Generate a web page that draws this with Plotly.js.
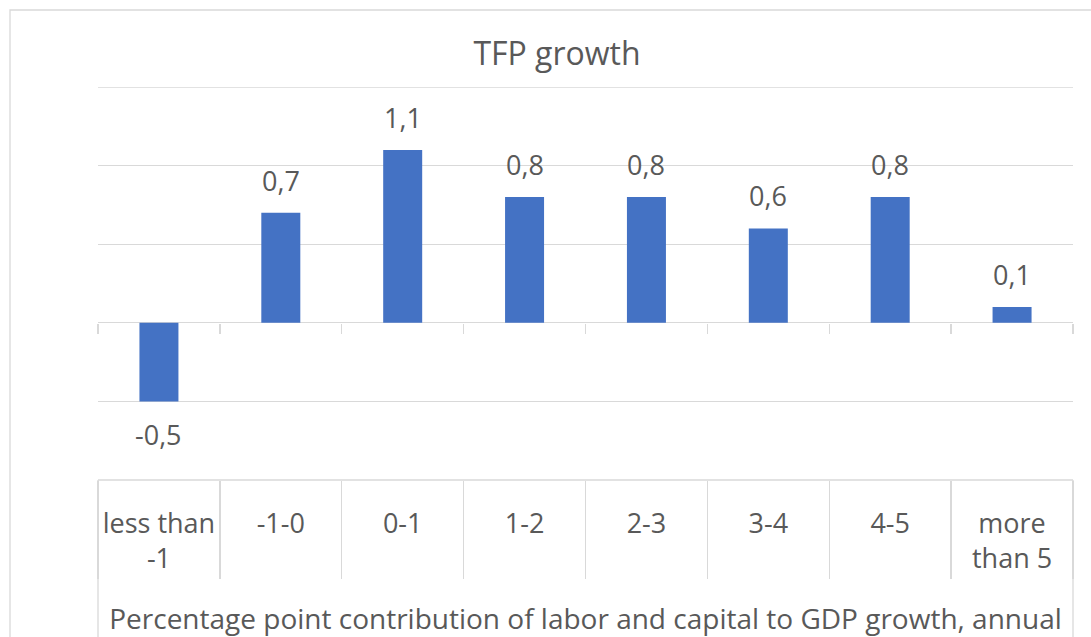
<!DOCTYPE html>
<html>
<head>
<meta charset="utf-8">
<script src="https://cdn.plot.ly/plotly-3.0.1.min.js"></script>
<style>html,body{margin:0;padding:0;background:#fff;}#chart{width:1091px;height:637px;}</style>
</head>
<body>
<div id="chart"></div>
<script>
const categories = ["less than<br>-1", "-1-0", "0-1", "1-2", "2-3", "3-4", "4-5", "more<br>than 5"];
const tfpGrowth = [-0.5, 0.7, 1.1, 0.8, 0.8, 0.6, 0.8, 0.1];
const chartTitle = "TFP growth";
const xAxisTitle = "Percentage point contribution of labor and capital to GDP growth, annual";

const grey = "#D9D9D9";
const textColor = "#595959";
const fontFam = "'Open Sans', 'Noto Sans', sans-serif";

const W = 1091, H = 637;
const M = {l: 98, r: 18, t: 87, b: 157};
const plotH = H - M.t - M.b;
const plotW = W - M.l - M.r;
const yRange = [-1, 1.5];
const zeroPos = (0 - yRange[0]) / (yRange[1] - yRange[0]);
const n = categories.length;

const trace = {
  type: "bar",
  x: categories,
  y: tfpGrowth,
  width: 0.32,
  marker: {color: "#4472C4"},
  hoverinfo: "skip",
  cliponaxis: false
};

const annotations = tfpGrowth.map((v, i) => ({
  x: categories[i],
  y: v,
  xref: "x",
  yref: "y",
  text: v.toFixed(1).replace(".", ","),
  showarrow: false,
  yanchor: v >= 0 ? "bottom" : "top",
  yshift: v >= 0 ? 12 : -13,
  font: {family: fontFam, size: 27, color: textColor}
}));

const shapes = [
  // outer chart frame
  {type: "rect", xref: "paper", yref: "paper",
   x0: (10 - M.l) / plotW, x1: (W + 20 - M.l) / plotW,
   y0: -(M.b + 20) / plotH, y1: (H - M.b - 10) / plotH,
   line: {color: grey, width: 1.3}, fillcolor: "rgba(0,0,0,0)", layer: "below"},
  // top gridline (upper edge of the value range)
  {type: "line", xref: "paper", yref: "y", x0: 0, x1: 1, y0: yRange[1], y1: yRange[1],
   line: {color: grey, width: 1.3}, layer: "below"},
  // category table outer verticals
  {type: "line", xref: "paper", yref: "paper", x0: 0, x1: 0, y0: 0, y1: -(M.b + 5) / plotH,
   line: {color: grey, width: 1.3}},
  {type: "line", xref: "paper", yref: "paper", x0: 1, x1: 1, y0: 0, y1: -(M.b + 5) / plotH,
   line: {color: grey, width: 1.3}},
  // table top line
  {type: "line", xref: "paper", yref: "paper", x0: 0, x1: 1, y0: 0, y1: 0,
   line: {color: grey, width: 1.3}}
];

const layout = {
  width: W, height: H,
  margin: M,
  paper_bgcolor: "#fff",
  plot_bgcolor: "#fff",
  showlegend: false,
  font: {family: fontFam, color: textColor, size: 27},
  title: {
    text: chartTitle,
    font: {family: fontFam, size: 32, color: textColor},
    xref: "paper", x: (557 - M.l) / plotW, xanchor: "center",
    yref: "container", y: 1 - 53.5 / H, yanchor: "middle"
  },
  xaxis: {
    type: "category",
    range: [-0.5, n - 0.5],
    showgrid: false,
    zeroline: false,
    showline: false,
    ticks: "",
    ticklabelstandoff: 25,
    tickfont: {family: fontFam, size: 27, color: textColor},
    title: {text: xAxisTitle, font: {family: fontFam, size: 28, color: textColor}, standoff: 34},
    automargin: false,
    fixedrange: true
  },
  xaxis2: {
    overlaying: "x",
    anchor: "free",
    position: zeroPos,
    type: "linear",
    range: [-0.5, n - 0.5],
    tick0: -0.5, dtick: 1,
    ticks: "outside", ticklen: 10, tickwidth: 1.3, tickcolor: grey,
    showticklabels: false, showgrid: false, zeroline: false, showline: false,
    automargin: false, fixedrange: true
  },
  xaxis3: {
    overlaying: "x",
    anchor: "free",
    position: 0,
    type: "linear",
    range: [-0.5, n - 0.5],
    tick0: -0.5, dtick: 1,
    ticks: "outside", ticklen: 98, tickwidth: 1.3, tickcolor: grey,
    showticklabels: false, showgrid: false, zeroline: false, showline: false,
    automargin: false, fixedrange: true
  },
  yaxis: {
    range: yRange,
    dtick: 0.5,
    showgrid: true, gridcolor: grey, gridwidth: 1.3,
    zeroline: true, zerolinecolor: grey, zerolinewidth: 1.3,
    showticklabels: false, ticks: "", showline: false,
    automargin: false, fixedrange: true
  },
  annotations: annotations,
  shapes: shapes
};

// invisible helper traces so the overlay axes are drawn
const helper2 = {type: "scatter", x: [0], y: [0], xaxis: "x2", yaxis: "y", mode: "markers",
  marker: {opacity: 0}, hoverinfo: "skip"};
const helper3 = {type: "scatter", x: [0], y: [0], xaxis: "x3", yaxis: "y", mode: "markers",
  marker: {opacity: 0}, hoverinfo: "skip"};

Plotly.newPlot("chart", [trace, helper2, helper3], layout, {staticPlot: true, displayModeBar: false});
</script>
</body>
</html>
